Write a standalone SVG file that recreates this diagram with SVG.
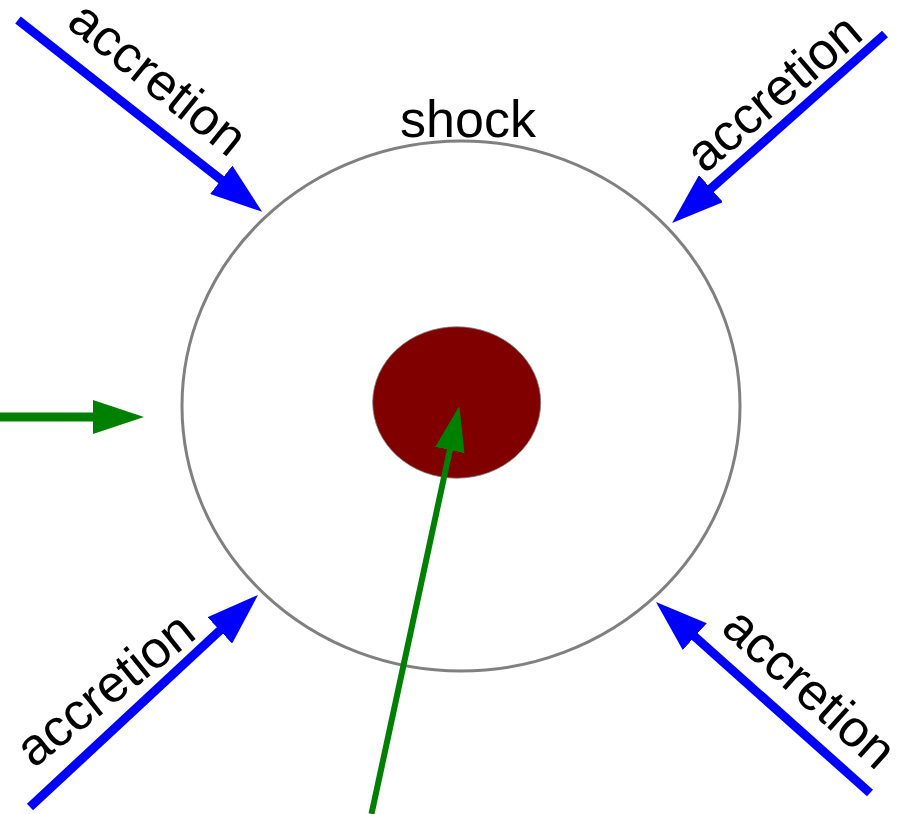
<svg xmlns="http://www.w3.org/2000/svg" width="899" height="814" viewBox="0 0 899 814">
  <style>
    .lbl { font-family: "Liberation Sans", Arial, sans-serif; font-size: 52px; fill: #000; text-anchor: middle; }
    .blue { stroke: #0000ff; stroke-width: 9; fill: none; }
    .green { stroke: #008000; fill: none; }
  </style>
  <defs>
    <marker id="bhead" markerUnits="userSpaceOnUse" markerWidth="52" markerHeight="36" viewBox="0 0 52 36" refX="4" refY="18" orient="auto">
      <path d="M0,0 L52,18 L0,36 Z" fill="#0000ff"/>
    </marker>
    <marker id="ghead1" markerUnits="userSpaceOnUse" markerWidth="51" markerHeight="34" viewBox="0 0 51 34" refX="2" refY="17" orient="auto">
      <path d="M0,0 L51,17 L0,34 Z" fill="#008000"/>
    </marker>
    <marker id="ghead2" markerUnits="userSpaceOnUse" markerWidth="45" markerHeight="30" viewBox="0 0 45 30" refX="3" refY="15" orient="auto">
      <path d="M0,0 L45,15 L0,30 Z" fill="#008000"/>
    </marker>
  </defs>
  <rect width="899" height="814" fill="#ffffff"/>

  <g id="shock">
    <ellipse cx="461" cy="406" rx="279" ry="265" fill="#ffffff" stroke="#808080" stroke-width="3"/>
    <text class="lbl" x="468" y="137">shock</text>
  </g>

  <g id="core">
    <ellipse cx="456.7" cy="402.5" rx="84" ry="75.7" fill="#800000" stroke="#808080" stroke-width="0.8"/>
  </g>

  <g id="connectors">
    <line class="blue" x1="18" y1="20" x2="224.4" y2="182.2" marker-end="url(#bhead)"/>
    <line class="blue" x1="885" y1="34" x2="708" y2="191.2" marker-end="url(#bhead)"/>
    <line class="blue" x1="30" y1="807" x2="222.8" y2="627.7" marker-end="url(#bhead)"/>
    <line class="blue" x1="870" y1="793" x2="691.8" y2="634" marker-end="url(#bhead)"/>
    <line class="green" stroke-width="9" x1="0" y1="417" x2="95" y2="417" marker-end="url(#ghead1)"/>
    <line class="green" stroke-width="6" x1="371.5" y1="814" x2="450.5" y2="447.1" marker-end="url(#ghead2)"/>
  </g>

  <g id="labels">
    <text class="lbl" transform="translate(147,92) rotate(39)">accretion</text>
    <text class="lbl" transform="translate(785,106) rotate(-40.5)">accretion</text>
    <text class="lbl" transform="translate(116,703) rotate(-38.8)">accretion</text>
    <text class="lbl" transform="translate(798,701) rotate(42)">accretion</text>
  </g>
</svg>
